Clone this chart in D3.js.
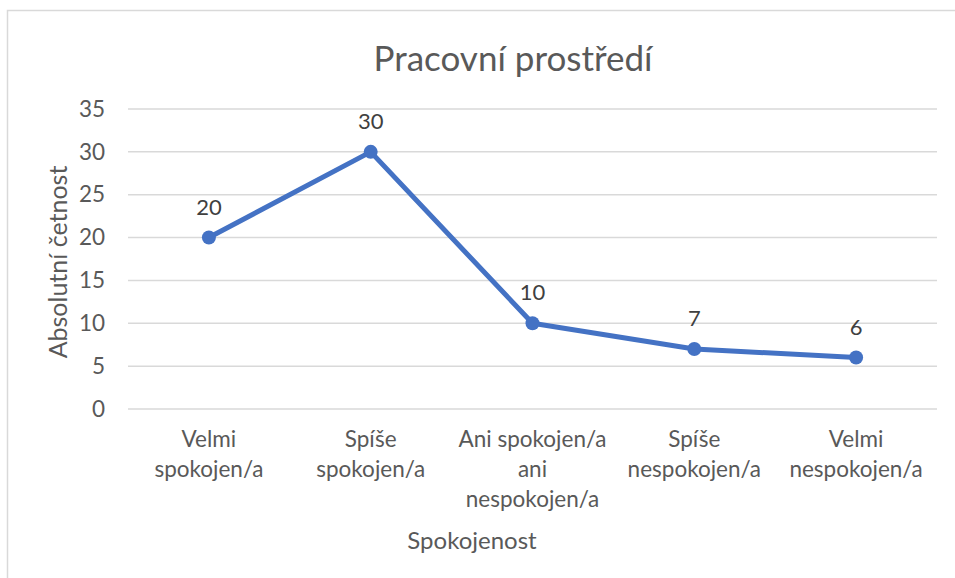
<!DOCTYPE html>
<html>
<head>
<meta charset="utf-8">
<script src="https://cdn.jsdelivr.net/npm/d3@7"></script>
<style>
    body { margin: 0; background: #fff; }
    svg { display: block; }
</style>
</head>
<body>
<svg id="chart" width="955" height="578"></svg>
<script>
// Chart data.
let categories = [
    ["Velmi", "spokojen/a"],
    ["Spíše", "spokojen/a"],
    ["Ani spokojen/a", "ani", "nespokojen/a"],
    ["Spíše", "nespokojen/a"],
    ["Velmi", "nespokojen/a"]
];
let values = [20, 30, 10, 7, 6];
let yTicks = [0, 5, 10, 15, 20, 25, 30, 35];

let titleText = "Pracovní prostředí";
let xTitle = "Spokojenost";
let yTitle = "Absolutní četnost";

// Display parameters.
let fontFamily = "Lato, 'Open Sans', sans-serif";
let textColour = "#595959";
let gridColour = "#d9d9d9";
let lineColour = "#4472c4";

let svg = d3.select("#chart");

// Outer chart frame (only top and left edges are in view).
svg.append("rect")
    .attr("x", 7.5)
    .attr("y", 10.5)
    .attr("width", 1000)
    .attr("height", 600)
    .attr("fill", "none")
    .attr("stroke", gridColour)
    .attr("stroke-width", 1.5);

// Scales.
let x = d3.scalePoint()
    .domain(d3.range(values.length))
    .range([128, 937])
    .padding(0.5);

let y = d3.scaleLinear()
    .domain([0, 35])
    .range([409, 109]);

// Gridlines.
svg.append("g")
    .selectAll("line")
    .data(yTicks)
    .enter()
    .append("line")
    .attr("x1", 128)
    .attr("x2", 937)
    .attr("y1", d => y(d))
    .attr("y2", d => y(d))
    .attr("stroke", gridColour)
    .attr("stroke-width", 1.5);

// Y axis tick labels.
let yAxis = d3.axisLeft(y)
    .tickValues(yTicks)
    .tickSize(0)
    .tickPadding(0);

svg.append("g")
    .attr("transform", "translate(105,0)")
    .call(yAxis)
    .call(g => g.select(".domain").remove())
    .selectAll("text")
    .attr("font-family", fontFamily)
    .attr("font-size", "22.5px")
    .attr("fill", textColour);

// Category labels, wrapped over several lines.
let catGroup = svg.append("g")
    .selectAll("text")
    .data(categories)
    .enter()
    .append("text")
    .attr("text-anchor", "middle")
    .attr("font-family", fontFamily)
    .attr("font-size", "22.5px")
    .attr("fill", textColour);

catGroup.selectAll("tspan")
    .data((d, i) => d.map(line => ({ line: line, i: i })))
    .enter()
    .append("tspan")
    .attr("x", d => x(d.i))
    .attr("y", (d, j) => 447 + j * 30)
    .text(d => d.line);

// Line connecting the points.
let line = d3.line()
    .x((d, i) => x(i))
    .y(d => y(d));

svg.append("path")
    .datum(values)
    .attr("d", line)
    .attr("fill", "none")
    .attr("stroke", lineColour)
    .attr("stroke-width", 5)
    .attr("stroke-linejoin", "round");

// Markers.
svg.append("g")
    .selectAll("circle")
    .data(values)
    .enter()
    .append("circle")
    .attr("cx", (d, i) => x(i))
    .attr("cy", d => y(d))
    .attr("r", 7)
    .attr("fill", lineColour);

// Data labels above each point.
svg.append("g")
    .selectAll("text")
    .data(values)
    .enter()
    .append("text")
    .attr("x", (d, i) => x(i))
    .attr("y", d => y(d) - 23)
    .attr("text-anchor", "middle")
    .attr("font-family", fontFamily)
    .attr("font-size", "22px")
    .attr("fill", "#404040")
    .text(d => d);

// Chart title.
svg.append("text")
    .attr("x", 513)
    .attr("y", 71)
    .attr("text-anchor", "middle")
    .attr("font-family", fontFamily)
    .attr("font-size", "35px")
    .attr("fill", textColour)
    .text(titleText);

// Axis titles.
svg.append("text")
    .attr("x", 472)
    .attr("y", 549)
    .attr("text-anchor", "middle")
    .attr("font-family", fontFamily)
    .attr("font-size", "24px")
    .attr("fill", textColour)
    .text(xTitle);

svg.append("text")
    .attr("transform", "translate(67,262) rotate(-90)")
    .attr("text-anchor", "middle")
    .attr("font-family", fontFamily)
    .attr("font-size", "25px")
    .attr("fill", textColour)
    .text(yTitle);
</script>
</body>
</html>
